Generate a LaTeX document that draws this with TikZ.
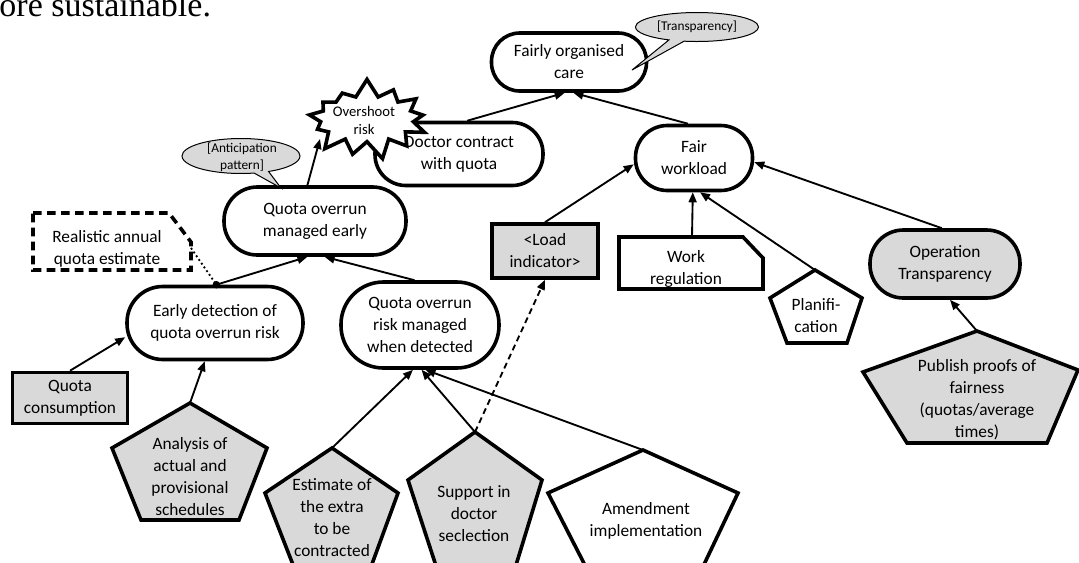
\documentclass[tikz,border=0pt]{standalone}
\usepackage{fontspec}
\setmainfont{Carlito}
\newfontfamily\bodyserif{Liberation Serif}
\usetikzlibrary{shapes.misc,shapes.symbols,shapes.callouts,arrows.meta}

\definecolor{boxgrey}{RGB}{217,217,217}

\tikzset{every picture/.style={line width=0.75pt}}
\tikzset{
  goal/.style 2 args={rectangle, draw, line width=2.7pt, fill=white, align=center, inner sep=0pt,
    minimum width=#1, minimum height=#2, rounded corners=#2/2-0.5pt, font=\fontsize{13}{16.5}\selectfont},
  res/.style={rectangle, draw, line width=2.7pt, fill=boxgrey, align=center, inner sep=0pt, font=\fontsize{13}{16.5}\selectfont},
  pentline/.style={line width=2.7pt, line join=miter},
  txt/.style={align=center, inner sep=0pt, font=\fontsize{13}{16.5}\selectfont},
  small/.style={align=center, inner sep=0pt, font=\fontsize{10}{12.75}\selectfont},
  bubble/.style={ellipse callout, draw, line width=0.75pt, fill=boxgrey, inner sep=0pt},
  conn/.style={line width=1.4pt, -{Triangle[length=7.5pt,width=6pt]}}
}

\begin{document}
\begin{tikzpicture}[x=0.75pt,y=0.75pt,yscale=-1,xscale=1]
\useasboundingbox (0,0) rectangle (1079,562);
\clip (0,0) rectangle (1079,562);

% Text Node
\node [anchor=base west, inner sep=0pt, font=\bodyserif\fontsize{25.5}{30}\selectfont] (sust) at (-1,16) {ore sustainable.};

%Shape: Rounded Rect
\node [goal={116.25pt}{43.5pt}] (care) at (569,62) {Fairly organised\\care};
\node [goal={126pt}{47.25pt}] (doctor) at (459,154) {Doctor contract\\with quota};
\node [goal={136.5pt}{51pt}] (qome) at (315,221) {Quota overrun\\managed early};
\node [goal={132pt}{54.75pt}] (early) at (215,323) {Early detection of\\quota overrun risk};
\node [goal={118.5pt}{64.5pt}] (qormwd) at (420,325) {Quota overrun\\risk managed\\when detected};
\node [goal={87.75pt}{48.75pt}] (fair) at (694,158) {Fair\\workload};
\node [goal={112.5pt}{51pt}, fill=boxgrey] (optrans) at (945,264) {Operation\\Transparency};

%Shape: Rectangle
\node [res, minimum width=86.25pt, minimum height=38.25pt] (quotac) at (70,398) {Quota\\consumption};
\node [res, minimum width=79.5pt, minimum height=40.5pt] (load) at (545,251) {<Load\\indicator>};

%Shape: Cut Rect
\draw [pentline, dash pattern=on 6.5pt off 4pt] (33,213) -- (169,213) -- (191,242) -- (191,248) coordinate (real) -- (191,270) -- (33,270) -- cycle ;
\node [txt] (realtxt) at (107,249) {Realistic annual\\quota estimate};
\draw [pentline, fill=white] (619,237) -- (692,237) coordinate (work) -- (743,237) -- (763,258) -- (763,289) -- (619,289) -- cycle ;
\node [txt] (worktxt) at (686,269) {Work\\regulation};

%Shape: Pentagon
\draw [pentline, fill=boxgrey] (190,403) coordinate (ana) -- (267,448) -- (239,520) -- (141,520) -- (112,448) -- cycle ;
\node [txt] (anatxt) at (190,477) {Analysis of\\actual and\\provisional\\schedules};
\draw [pentline, fill=boxgrey] (332,448) coordinate (est) -- (398,493) -- (368,575) -- (297,575) -- (265,493) -- cycle ;
\node [txt] (esttxt) at (332,518) {Estimate of\\the extra\\to be\\contracted};
\draw [pentline, fill=boxgrey] (475,432) coordinate (sup) -- (542,480) -- (513,575) -- (439,575) -- (408,480) -- cycle ;
\node [txt] (suptxt) at (474,514) {Support in\\doctor\\seclection};
\draw [pentline, fill=white] (643,450) coordinate (amend) -- (738,493) -- (699,575) -- (590,575) -- (548,493) -- cycle ;
\node [txt] (amendtxt) at (646,521) {Amendment\\implementation};
\draw [pentline, fill=white] (815,270) coordinate (plan) -- (862,298) -- (847,343) -- (787,343) -- (770,298) -- cycle ;
\node [txt] (plantxt) at (816,316) {Planifi-\\cation};
\draw [pentline, fill=boxgrey] (977,331) coordinate (pub) -- (1078,370) -- (1047,443) -- (907,443) -- (863,372) -- cycle ;
\node [txt] (pubtxt) at (977,400) {Publish proofs of\\fairness\\(quotas/average\\times)};

%Shape: Starburst
\node [starburst, draw, line width=2.7pt, fill=white, minimum width=98pt, minimum height=62pt, starburst points=13, starburst point height=14pt, random starburst=7] (overshoot) at (367,119) {};
\node [align=center, inner sep=0pt, font=\fontsize{11}{13.5}\selectfont] (overtxt) at (364,120) {Overshoot\\risk};
\coordinate (overtip) at (320,139);

%Shape: Callout
\node [bubble, minimum width=92.25pt, minimum height=21.75pt, callout absolute pointer={(632,70)}] (transp) at (697,27) {};
\node [small] (transptxt) at (697,27) {[Transparency]};
\node [bubble, minimum width=88.5pt, minimum height=26.25pt, callout absolute pointer={(281,188)}] (antic) at (241,156) {};
\node [small] (antictxt) at (242,157) {[Anticipation\\pattern]};

%Straight Lines
\draw [conn] (early.88) -- (qome.258);
\draw [conn] (qormwd.97) -- (qome.285);
\draw [conn] (quotac.north) -- (early.189);
\draw [conn] (ana) -- (early.255);
\draw [conn] (est) -- (qormwd.261);
\draw [conn] (sup) -- (qormwd.272);
\draw [conn] (amend) -- (qormwd.277);
\draw [conn, dash pattern=on 4.5pt off 3pt] (sup) -- (load.south);
\draw [conn] (load.north) -- (fair.186);
\draw [conn] (work) -- (fair.268);
\draw [conn] (plan) -- (fair.280);
\draw [conn] (optrans.95) -- (fair.356);
\draw [conn] (pub) -- (optrans.278);
\draw [conn] (fair.100) -- (care.278);
\draw [conn] (doctor.76) -- (care.262);
\draw [conn] (qome.102) -- (overtip);
%Dotted Lines
\draw [line width=1.4pt, dash pattern=on 1.4pt off 2pt] (real) -- (early.88);
\fill (early.88) circle (2.8pt);

\end{tikzpicture}
\end{document}
